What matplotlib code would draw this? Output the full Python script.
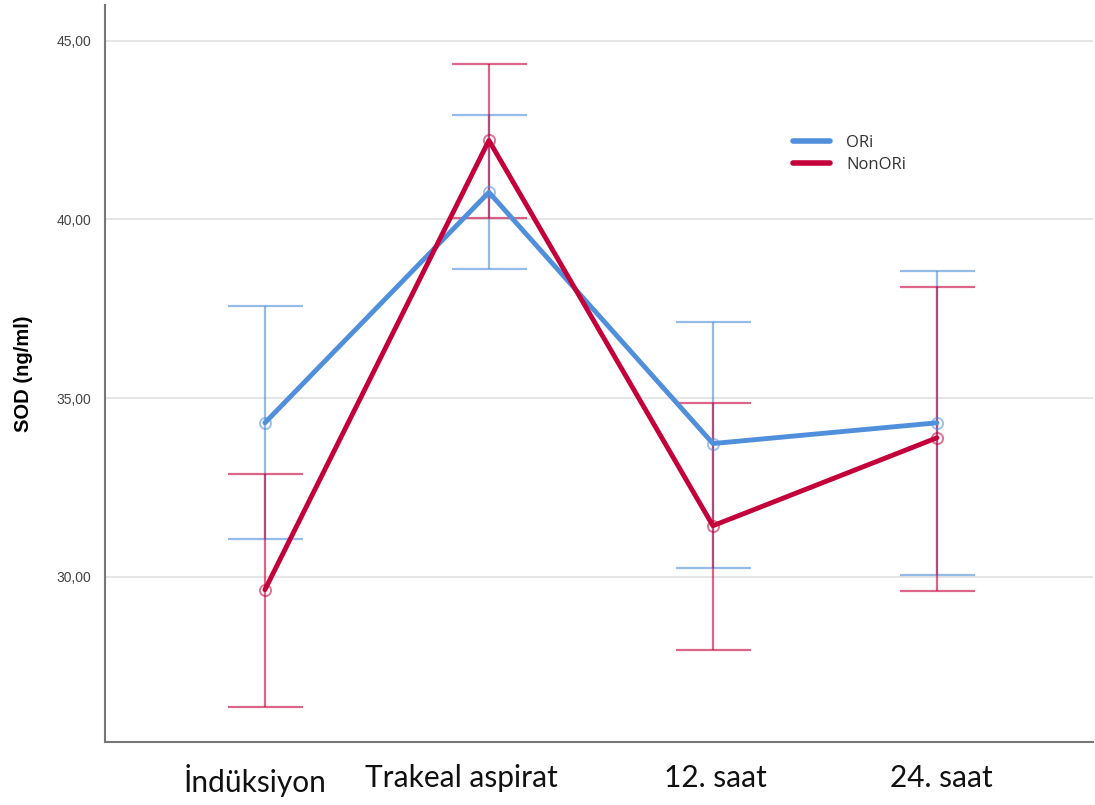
import matplotlib
matplotlib.use("Agg")
import matplotlib.pyplot as plt
import matplotlib.transforms as mtransforms
import numpy as np

categories = ["İndüksiyon", "Trakeal aspirat", "12. saat", "24. saat"]
ori_mean = [34.31, 40.76, 33.73, 34.31]
ori_low = [31.06, 38.60, 30.25, 30.06]
ori_high = [37.59, 42.91, 37.14, 38.57]
nonori_mean = [29.64, 42.21, 31.43, 33.89]
nonori_low = [26.36, 40.03, 27.96, 29.61]
nonori_high = [32.89, 44.34, 34.87, 38.10]
yticks = [30, 35, 40, 45]

blue = "#4F8FDB"
red = "#C4003A"

W, H = 1095, 805
fig = plt.figure(figsize=(W / 100, H / 100), dpi=100)
ax = fig.add_axes([0.0959, 0.0783, 0.9021, 0.9155])
x = np.arange(len(categories))

def draw_series(mean, low, high, color, label):
    mean = np.array(mean); low = np.array(low); high = np.array(high)
    ax.errorbar(x, mean, yerr=[mean - low, high - mean], fmt="none",
                ecolor=color, elinewidth=1.6, capsize=27, capthick=1.6,
                alpha=0.6, zorder=2)
    ax.plot(x, mean, color=color, lw=3.5, label=label, zorder=3,
            solid_capstyle="round")
    ax.plot(x, mean, "o", mfc="none", mec=color, mew=1.4, ms=8,
            alpha=0.55, zorder=4)

draw_series(ori_mean, ori_low, ori_high, blue, "ORi")
draw_series(nonori_mean, nonori_low, nonori_high, red, "NonORi")

ax.set_xlim(-0.714, 3.696)
ax.set_ylim(25.38, 46.0)
ax.set_yticks(yticks)
ax.set_yticklabels([f"{v:.2f}".replace(".", ",") for v in yticks],
                   fontsize=10, color="#444444", family="Liberation Sans")
ax.set_xticks(x)
ax.set_xticklabels(categories, fontsize=21.5, family="Lato", color="#111111")
ax.tick_params(axis="both", length=0)
ax.tick_params(axis="y", pad=10)
ax.tick_params(axis="x", pad=16)

# small horizontal nudges of the category labels (in points)
label_shift = [-7, -20, 1.5, 3]
for lbl, dx in zip(ax.get_xticklabels(), label_shift):
    lbl.set_transform(lbl.get_transform() +
                      mtransforms.ScaledTranslation(dx / 72, 0, fig.dpi_scale_trans))

ax.grid(axis="y", color="#E0E0E0", lw=1.2)
ax.set_axisbelow(True)
for s in ["top", "right"]:
    ax.spines[s].set_visible(False)
for s in ["left", "bottom"]:
    ax.spines[s].set_color("#777777")
    ax.spines[s].set_linewidth(1.5)

ax.set_ylabel("SOD (ng/ml)", fontsize=14.5, fontweight="bold",
              family="Liberation Sans", labelpad=17)

leg = ax.legend(loc="center left", bbox_to_anchor=(793 / W, 1 - 154 / H),
                bbox_transform=fig.transFigure, frameon=False, borderpad=0,
                borderaxespad=0, handlelength=2.2, handletextpad=1.0,
                labelspacing=0.35,
                prop={"family": "Open Sans", "size": 12})
for t in leg.get_texts():
    t.set_color("#333333")
for h in leg.get_lines():
    h.set_linewidth(4)

fig.savefig("out.png", dpi=100)
